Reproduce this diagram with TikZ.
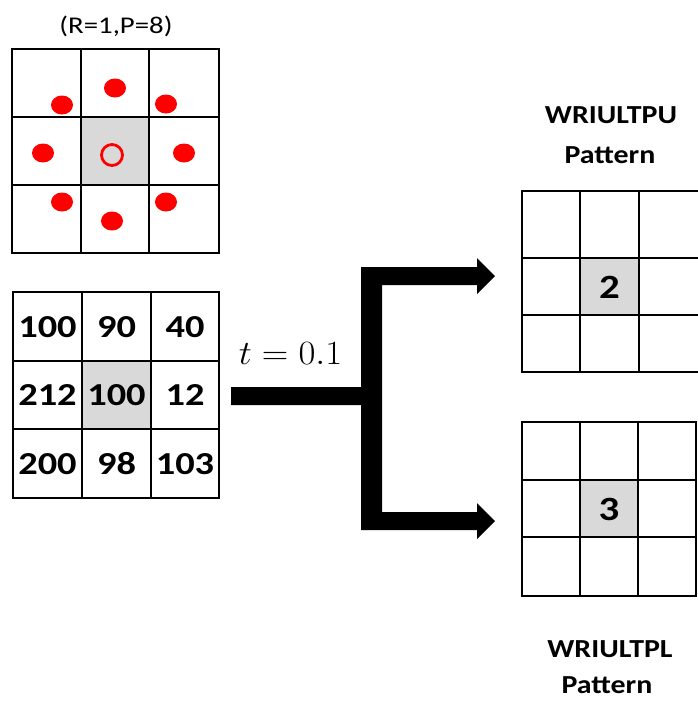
\RequirePackage{fix-cm}
\documentclass[tikz,border=0pt]{standalone}
\usepackage{fontspec}
\usepackage{graphicx}
\newfontfamily\calfont[FakeStretch=1.2]{Carlito}
\newfontfamily\titlefont[FakeStretch=1.15]{Carlito}
\definecolor{cellgray}{HTML}{D9D9D9}
\definecolor{dotred}{HTML}{FF0000}
\tikzset{
  gridline/.style={line width=2pt, line cap=rect},
  num/.style={font=\calfont\bfseries\fontsize{32}{38}\selectfont, inner sep=0pt},
  bignum/.style={font=\calfont\bfseries\fontsize{34}{40}\selectfont, inner sep=0pt},
  title/.style={font=\titlefont\bfseries\fontsize{26}{31}\selectfont, inner sep=0pt, anchor=base},
  reddot/.style={fill=dotred},
}
\begin{document}
\begin{tikzpicture}[x=1pt,y=-1pt]
\useasboundingbox (0,0) rectangle (697,705);

% ---- top-left sampling grid ----
\fill[cellgray] (81,117) rectangle (149,185);
\foreach \x in {12,81,149,219} \draw[gridline] (\x,49) -- (\x,253);
\foreach \y in {49,117,185,253} \draw[gridline] (12,\y) -- (219,\y);
\node[font=\calfont\fontsize{24}{28}\selectfont, inner sep=0pt] (rp) at (116,26) {(R=1,P=8)};
\foreach \px/\py in {115/88, 62/105, 166/104, 43/153, 184/153, 62/202, 166/202, 112/221}
  \fill[reddot] (\px,\py) ellipse [x radius=11pt, y radius=9.5pt];
\draw[dotred, line width=2.8pt] (112,155) circle [radius=10.5pt];

% ---- number grid ----
\fill[cellgray] (82,361) rectangle (151,429);
\foreach \x in {13,82,151,219} \draw[gridline] (\x,292) -- (\x,498);
\foreach \y in {292,361,429,498} \draw[gridline] (13,\y) -- (219,\y);
\node[num] (n11) at (47.5,327) {100};
\node[num] (n12) at (116.5,327) {90};
\node[num] (n13) at (185,327) {40};
\node[num] (n21) at (47.5,395) {212};
\node[num] (n22) at (116.5,395) {100};
\node[num] (n23) at (185,395) {12};
\node[num] (n31) at (47.5,464) {200};
\node[num] (n32) at (116.5,464) {98};
\node[num] (n33) at (185,464) {103};

% ---- threshold label ----
\node[anchor=base, inner sep=0pt] (thr) at (290.5,364)
  {\scalebox{1.08}[1]{\fontsize{34}{40}\selectfont$t=0.1$}};

% ---- branching arrow ----
\fill[black] (231,387) -- (361,387) -- (361,267) -- (477,267) -- (477,258)
  -- (495,276) -- (477,294) -- (477,285) -- (382,285) -- (382,512)
  -- (477,512) -- (477,503) -- (495,521) -- (477,539) -- (477,530)
  -- (361,530) -- (361,405) -- (231,405) -- cycle;

% ---- upper pattern ----
\node[title] (tu1) at (611,123) {WRIULTPU};
\node[title] (tu2) at (610,163) {Pattern};
\fill[cellgray] (580,258) rectangle (639,315);
\foreach \x in {522,580,639} \draw[gridline] (\x,191) -- (\x,372);
\foreach \y in {191,258,315,372} \draw[gridline] (522,\y) -- (700,\y);
\node[bignum] (pu) at (609.5,287) {2};

% ---- lower pattern ----
\fill[cellgray] (580,480) rectangle (638,537);
\foreach \x in {522,580,638,696} \draw[gridline] (\x,422) -- (\x,596);
\foreach \y in {422,480,537,596} \draw[gridline] (522,\y) -- (696,\y);
\node[bignum] (pl) at (609,509) {3};
\node[title] (tl1) at (610,657) {WRIULTPL};
\node[title] (tl2) at (607,693) {Pattern};
\end{tikzpicture}
\end{document}
